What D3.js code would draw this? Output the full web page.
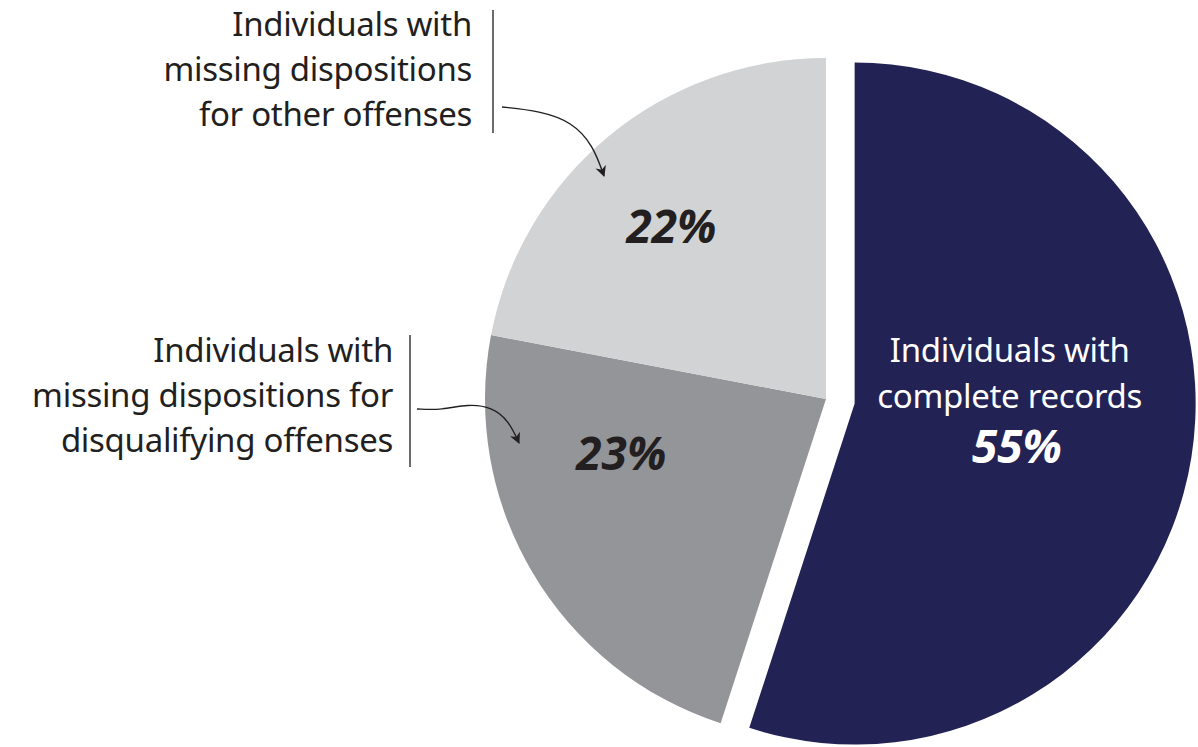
<!DOCTYPE html>
<html>
  <head>
    <meta charset="utf-8">
    <title>Records completeness</title>
    <style>
      body { margin: 0; background: white; }
      text { font-family: "Noto Sans", "Open Sans", sans-serif; }
      .note { font-size: 33px; letter-spacing: -0.3px; }
      .pct { font-size: 46px; font-weight: bold; font-style: italic; }
      .bar { stroke: #3a3a3a; stroke-width: 1.5; }
      .arrow { fill: none; stroke: #231f20; stroke-width: 1.4; }
    </style>
  </head>
  <body>
    <svg width="1198" height="747"></svg>
    <script src="https://d3js.org/d3.v7.min.js"></script>
    <script type="application/javascript">
      // data
      const groups = ['complete', 'disqualifying', 'other'];
      const shares = [55, 23, 22];
      const colors = ['#232255', '#939598', '#d1d3d4'];
      const pctColors = ['#ffffff', '#231f20', '#231f20'];
      const insideLabel = ['Individuals with', 'complete records'];
      const notes = [
        ['Individuals with', 'missing dispositions', 'for other offenses'],
        ['Individuals with', 'missing dispositions for', 'disqualifying offenses']
      ];

      const svg = d3.select('svg');
      const cx = 826, cy = 399, radius = 341, explode = 29;

      const pie = d3.pie().sort(null).value(d => d.value);
      const arcs = pie(groups.map((g, i) => ({ id: g, value: shares[i], i })));
      const arc = d3.arc().innerRadius(0).outerRadius(radius);

      function offset(d) {
        if (d.index !== 0) return [0, 0];
        const a = (d.startAngle + d.endAngle) / 2;
        return [Math.sin(a) * explode, -Math.cos(a) * explode];
      }

      const pieG = svg.append('g').attr('transform', `translate(${cx},${cy})`);

      const slices = pieG.selectAll('g.slice')
        .data(arcs)
        .enter()
          .append('g')
          .attr('class', 'slice')
          .attr('transform', d => `translate(${offset(d)})`);

      slices.append('path')
        .attr('d', arc)
        .attr('fill', d => colors[d.index]);

      // percent labels: angle (deg) / radius in pie coords
      const labelPolar = [[105, 168], [255, 212], [318, 231]];
      slices.append('text')
        .attr('class', 'pct')
        .attr('text-anchor', 'middle')
        .style('fill', d => pctColors[d.index])
        .attr('x', d => Math.sin(labelPolar[d.index][0] * Math.PI / 180) * labelPolar[d.index][1])
        .attr('y', d => -Math.cos(labelPolar[d.index][0] * Math.PI / 180) * labelPolar[d.index][1] + 16)
        .text(d => d.data.value + '%');

      // label inside the navy slice
      const big = slices.filter(d => d.index === 0);
      big.append('text')
        .attr('class', 'note')
        .style('fill', '#ffffff')
        .attr('text-anchor', 'middle')
        .selectAll('tspan')
        .data(insideLabel)
        .enter()
          .append('tspan')
          .attr('x', 1009 - cx - 28)
          .attr('y', (d, i) => 362 - cy - 5 + i * 46)
          .text(d => d);

      // side notes with bars and arrows
      const noteLayout = [
        { right: 472, top: 36, barX: 493, barY: [10, 133],
          arrow: [[502, 107], [540, 111], [572, 122], [593, 145], [604, 176]] },
        { right: 393, top: 362, barX: 410, barY: [335, 467],
          arrow: [[417, 409], [442, 410], [468, 404], [492, 407], [509, 421], [519, 443]] }
      ];

      svg.append('defs').append('marker')
        .attr('id', 'head')
        .attr('viewBox', '0 0 10 10')
        .attr('refX', 9).attr('refY', 5)
        .attr('markerWidth', 11).attr('markerHeight', 11)
        .attr('markerUnits', 'userSpaceOnUse')
        .attr('orient', 'auto')
        .append('path')
          .attr('d', 'M0,0 L10,5 L0,10 L3,5 Z')
          .attr('fill', '#231f20');

      const line = d3.line().curve(d3.curveBasis);

      noteLayout.forEach((n, k) => {
        svg.append('text')
          .attr('class', 'note')
          .style('fill', '#231f20')
          .attr('text-anchor', 'end')
          .selectAll('tspan')
          .data(notes[k])
          .enter()
            .append('tspan')
            .attr('x', n.right)
            .attr('y', (d, i) => n.top + i * 45)
            .text(d => d);

        svg.append('line')
          .attr('class', 'bar')
          .attr('x1', n.barX).attr('x2', n.barX)
          .attr('y1', n.barY[0]).attr('y2', n.barY[1]);

        svg.append('path')
          .attr('class', 'arrow')
          .attr('d', line(n.arrow))
          .attr('marker-end', 'url(#head)');
      });
    </script>
  </body>
</html>
